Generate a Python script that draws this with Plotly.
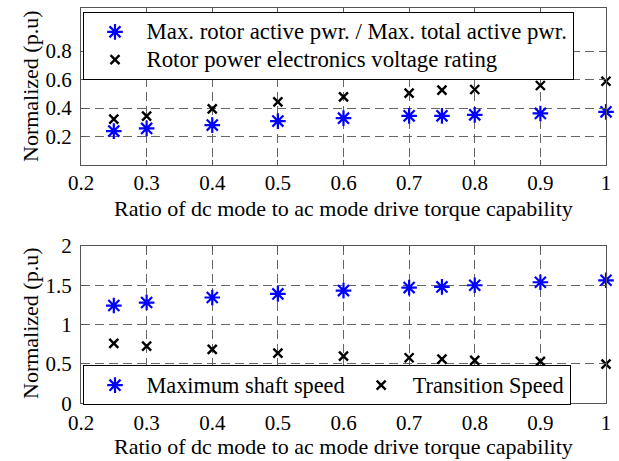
import plotly.graph_objects as go

# Ratio of dc-mode to ac-mode drive torque capability
ratio = [0.25, 0.3, 0.4, 0.5, 0.6, 0.7, 0.75, 0.8, 0.9, 1.0]

# Upper panel series
rotor_power_ratio = [0.238, 0.257, 0.280, 0.308, 0.329, 0.345, 0.345, 0.352, 0.362, 0.373]
rotor_voltage_rating = [0.322, 0.343, 0.394, 0.443, 0.478, 0.504, 0.525, 0.530, 0.558, 0.588]

# Lower panel series
max_shaft_speed = [1.243, 1.281, 1.345, 1.391, 1.433, 1.471, 1.480, 1.501, 1.539, 1.564]
transition_speed = [0.761, 0.727, 0.685, 0.638, 0.600, 0.579, 0.562, 0.545, 0.533, 0.499]

x_ticks = [0.2, 0.3, 0.4, 0.5, 0.6, 0.7, 0.8, 0.9, 1.0]
x_ticktext = ["0.2", "0.3", "0.4", "0.5", "0.6", "0.7", "0.8", "0.9", "1"]
top_yticks = [0.2, 0.4, 0.6, 0.8]
top_yticktext = ["0.2", "0.4", "0.6", "0.8"]
bot_yticks = [0, 0.5, 1, 1.5, 2]
bot_yticktext = ["0", "0.5", "1", "1.5", "2"]

x_title = "Ratio of dc mode to ac mode drive torque capability"
y_title = "Normalized (p.u)"

FONT = "Liberation Serif, Times New Roman, serif"
W, H = 619, 461
BLUE = "#0000ff"


def legend_label(text, px):
    # larger glyphs than the legend's base size, so rows stay compact
    return f'<span style="font-size:{px}px">{text}</span>'


star = dict(symbol="asterisk-open", size=13, color=BLUE, line=dict(color=BLUE, width=2.2))
cross = dict(symbol="x-thin-open", size=9, color="black", line=dict(color="black", width=2.4))

fig = go.Figure()
fig.add_trace(go.Scatter(x=ratio, y=rotor_power_ratio, mode="markers", marker=star,
                         name=legend_label("Max. rotor active pwr. / Max. total active pwr.", 22.8),
                         xaxis="x", yaxis="y", legend="legend", cliponaxis=False))
fig.add_trace(go.Scatter(x=ratio, y=rotor_voltage_rating, mode="markers", marker=cross,
                         name=legend_label("Rotor power electronics voltage rating", 22.8),
                         xaxis="x", yaxis="y", legend="legend", cliponaxis=False))
fig.add_trace(go.Scatter(x=ratio, y=max_shaft_speed, mode="markers", marker=star,
                         name=legend_label("Maximum shaft speed", 22.3),
                         xaxis="x2", yaxis="y2", legend="legend2", cliponaxis=False))
fig.add_trace(go.Scatter(x=ratio, y=transition_speed, mode="markers", marker=cross,
                         name=legend_label("Transition Speed", 22.3),
                         xaxis="x2", yaxis="y2", legend="legend2", cliponaxis=False))

x0, x1 = 81 / W, 606 / W
top_dom = [1 - 165 / H, 1 - 8.3 / H]
bot_dom = [1 - 403.3 / H, 1 - 246 / H]

axis_common = dict(
    automargin=False,
    showline=True, linecolor="#555", linewidth=1, mirror="allticks",
    ticks="inside", ticklen=5, tickcolor="#555",
    showgrid=True, gridcolor="#666", gridwidth=1, griddash="9px,5px",
    zeroline=False, tickfont=dict(family=FONT, size=21, color="black"),
)

fig.update_layout(
    width=W, height=H, margin=dict(l=0, r=0, t=0, b=0),
    paper_bgcolor="white", plot_bgcolor="white",
    font=dict(family=FONT, size=22, color="black"),
    xaxis=dict(domain=[x0, x1], anchor="y", range=[0.2, 1.0], tickvals=x_ticks,
               ticktext=x_ticktext, ticklabelstandoff=-1, **axis_common),
    yaxis=dict(domain=top_dom, anchor="x", range=[0, 1.1], tickvals=top_yticks,
               ticktext=top_yticktext, ticklabelstandoff=4, **axis_common),
    xaxis2=dict(domain=[x0, x1], anchor="y2", range=[0.2, 1.0], tickvals=x_ticks,
                ticktext=x_ticktext, ticklabelstandoff=0, **axis_common),
    yaxis2=dict(domain=bot_dom, anchor="x2", range=[0, 2], tickvals=bot_yticks,
                ticktext=bot_yticktext, ticklabelstandoff=4, **axis_common),
    legend=dict(x=82.5 / W, y=1 - 12 / H, xanchor="left", yanchor="top",
                bgcolor="white", bordercolor="black", borderwidth=1,
                itemwidth=53, font=dict(family=FONT, size=19, color="black"),
                tracegroupgap=0),
    legend2=dict(x=82.5 / W, y=1 - 365.3 / H, xanchor="left", yanchor="top",
                 orientation="h", bgcolor="white", bordercolor="black", borderwidth=1,
                 itemwidth=53, font=dict(family=FONT, size=19, color="black")),
    showlegend=True,
)

annotations = [
    dict(text=x_title, x=(x0 + x1) / 2, y=1 - 208 / H),
    dict(text=x_title, x=(x0 + x1) / 2, y=1 - 446 / H),
    dict(text=y_title, x=30 / W, y=1 - 86 / H, textangle=-90),
    dict(text=y_title, x=30 / W, y=1 - 323 / H, textangle=-90),
]
for a in annotations:
    fig.add_annotation(xref="paper", yref="paper", showarrow=False,
                       xanchor="center", yanchor="middle",
                       font=dict(family=FONT, size=22, color="black"), **a)

fig.write_html("out.html")
